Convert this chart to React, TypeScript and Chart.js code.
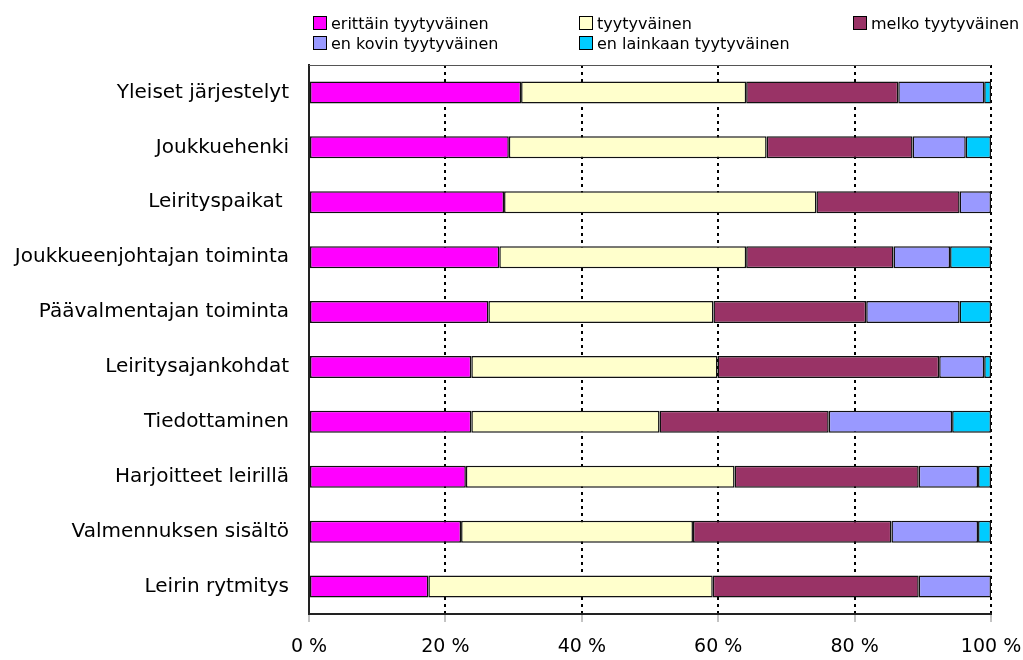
import React, { useEffect, useRef } from "react";
import { Chart, registerables } from "chart.js";

Chart.register(...registerables);

const categories = [
  "Yleiset järjestelyt",
  "Joukkuehenki",
  "Leirityspaikat ",
  "Joukkueenjohtajan toiminta",
  "Päävalmentajan toiminta",
  "Leiritysajankohdat",
  "Tiedottaminen",
  "Harjoitteet leirillä",
  "Valmennuksen sisältö",
  "Leirin rytmitys",
];

const seriesNames = [
  "erittäin tyytyväinen",
  "tyytyväinen",
  "melko tyytyväinen",
  "en kovin tyytyväinen",
  "en lainkaan tyytyväinen",
];

const seriesColors = ["#FF00FF", "#FFFFCC", "#993366", "#9999FF", "#00CCFF"];

const erittainTyytyvainen = [31.1, 29.3, 28.6, 27.9, 26.3, 23.8, 23.8, 23.0, 22.3, 17.5];
const tyytyvainen = [33.0, 37.8, 45.8, 36.2, 33.0, 36.1, 27.6, 39.4, 34.0, 41.7];
const melkoTyytyvainen = [22.3, 21.4, 21.0, 21.6, 22.4, 32.5, 24.8, 27.0, 29.1, 30.2];
const enKovinTyytyvainen = [12.6, 7.8, 4.6, 8.3, 13.7, 6.6, 18.1, 8.7, 12.7, 10.6];
const enLainkaanTyytyvainen = [1.0, 3.7, 0, 6.0, 4.6, 1.0, 5.7, 1.9, 1.9, 0];

const seriesValues = [
  erittainTyytyvainen,
  tyytyvainen,
  melkoTyytyvainen,
  enKovinTyytyvainen,
  enLainkaanTyytyvainen,
];

const xTickValues = [0, 20, 40, 60, 80, 100];

const FONT = "'DejaVu Sans', sans-serif";

const legendPositions = [
  { left: 313, top: 13 },
  { left: 579, top: 13 },
  { left: 853, top: 13 },
  { left: 313, top: 33 },
  { left: 579, top: 33 },
];

const topBorderPlugin = {
  id: "topBorder",
  afterDraw(chart: any) {
    const { ctx, chartArea } = chart;
    ctx.save();
    ctx.strokeStyle = "#555555";
    ctx.lineWidth = 1;
    ctx.beginPath();
    ctx.moveTo(chartArea.left, chartArea.top + 0.5);
    ctx.lineTo(chartArea.right, chartArea.top + 0.5);
    ctx.stroke();
    ctx.restore();
  },
};

export default function App() {
  const canvasRef = useRef<HTMLCanvasElement | null>(null);

  useEffect(() => {
    const canvas = canvasRef.current;
    if (!canvas) return;
    const chart = new Chart(canvas, {
      type: "bar",
      data: {
        labels: categories,
        datasets: seriesNames.map((name, i) => ({
          label: name,
          data: seriesValues[i],
          backgroundColor: seriesColors[i],
          borderColor: "#111111",
          borderWidth: 1.5,
          borderSkipped: false,
          categoryPercentage: 1,
          barPercentage: 0.4,
        })),
      },
      options: {
        indexAxis: "y",
        animation: false,
        responsive: false,
        maintainAspectRatio: false,
        layout: { padding: { top: 65, right: 32, bottom: 0, left: 0 } },
        plugins: {
          legend: { display: false },
          tooltip: { enabled: false },
        },
        scales: {
          x: {
            stacked: true,
            min: 0,
            max: 100,
            afterBuildTicks: (scale: any) => {
              scale.ticks = xTickValues.map((v) => ({ value: v }));
            },
            afterFit: (scale: any) => {
              scale.height = 46;
              scale.paddingLeft = 0;
              scale.paddingRight = 0;
            },
            ticks: {
              callback: (v: any) => v + " %",
              color: "#000000",
              font: { family: FONT, size: 19 },
              padding: 14,
              maxRotation: 0,
            },
            grid: {
              color: (ctx: any) => (ctx.index === 0 ? "rgba(0,0,0,0)" : "#000000"),
              lineWidth: 2,
              drawTicks: true,
              tickLength: 8,
              tickColor: "#888888",
              tickWidth: 1,
              tickBorderDash: [],
            },
            border: {
              display: true,
              color: "#222222",
              width: 2,
              dash: [3, 4],
            },
          },
          y: {
            stacked: true,
            afterFit: (scale: any) => {
              scale.width = 309;
            },
            ticks: {
              color: "#000000",
              font: { family: FONT, size: 20 },
              padding: 12,
              autoSkip: false,
            },
            grid: { display: false },
            border: { display: true, color: "#222222", width: 2 },
          },
        },
      },
      plugins: [topBorderPlugin],
    });
    return () => chart.destroy();
  }, []);

  return (
    <div
      style={{
        position: "fixed",
        left: 0,
        top: 0,
        width: 1023,
        height: 660,
        background: "#ffffff",
        fontFamily: FONT,
      }}
    >
      <canvas
        ref={canvasRef}
        width={1023}
        height={660}
        style={{ position: "absolute", left: 0, top: 0, width: 1023, height: 660 }}
      />
      {seriesNames.map((name, i) => (
        <div
          key={name}
          style={{
            position: "absolute",
            left: legendPositions[i].left,
            top: legendPositions[i].top,
            display: "flex",
            alignItems: "center",
            height: 20,
            fontSize: 16,
            color: "#000000",
            whiteSpace: "nowrap",
          }}
        >
          <span
            style={{
              display: "inline-block",
              width: 12,
              height: 12,
              background: seriesColors[i],
              border: "1px solid #000000",
              marginRight: 4,
            }}
          />
          <span>{name}</span>
        </div>
      ))}
    </div>
  );
}
